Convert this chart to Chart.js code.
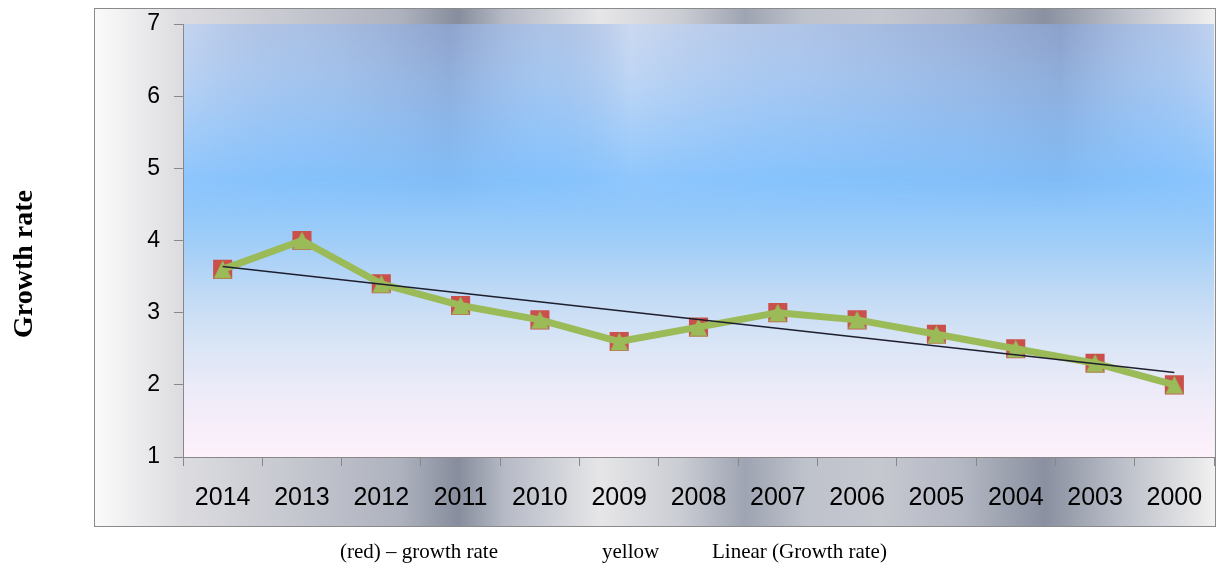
<!DOCTYPE html>
<html>
<head>
<meta charset="utf-8">
<title>Growth rate</title>
<script src="https://cdn.jsdelivr.net/npm/chart.js@4/dist/chart.umd.min.js"></script>
<style>
  html, body { margin: 0; padding: 0; background: #ffffff; }
  #wrap { width: 1218px; height: 571px; position: relative; }
</style>
</head>
<body>
<div id="wrap"><canvas id="chart" width="1218" height="571"></canvas></div>
<script>
// ---- data ----
const years = ['2014', '2013', '2012', '2011', '2010', '2009', '2008', '2007', '2006', '2005', '2004', '2003', '2000'];
const growthRate = [3.6, 4.0, 3.4, 3.1, 2.9, 2.6, 2.8, 3.0, 2.9, 2.7, 2.5, 2.3, 2.0];
const yellowSeries = [3.6, 4.0, 3.4, 3.1, 2.9, 2.6, 2.8, 3.0, 2.9, 2.7, 2.5, 2.3, 2.0];
// linear trend: only its two ends are given, the line spans the gap
const trendLine = [3.64, null, null, null, null, null, null, null, null, null, null, null, 2.17];
const yMin = 1;
const yMax = 7;
const yStep = 1;
const seriesLabels = ['(red) – growth rate', 'yellow', 'Linear (Growth rate)'];
const axisTitle = 'Growth rate';

// ---- marker: green triangle filling a square box ----
function triangleMarker(size, color) {
  const c = document.createElement('canvas');
  c.width = size; c.height = size;
  const g = c.getContext('2d');
  g.fillStyle = color;
  g.beginPath();
  g.moveTo(size / 2, 0.5);
  g.lineTo(size - 0.5, size - 0.5);
  g.lineTo(0.5, size - 0.5);
  g.closePath();
  g.fill();
  return c;
}
const greenTri = triangleMarker(19, '#9bbb59');

// ---- backgrounds: metallic chart frame + blue sky plot area ----
const backdrop = {
  id: 'backdrop',
  beforeDraw(chart) {
    const ctx = chart.ctx;
    const fx = 94, fy = 8, fw = 1122, fh = 519;
    ctx.save();
    const metal = ctx.createLinearGradient(fx, 0, fx + fw, 0);
    const mStops = [
      [94, '#fbfbfb'], [183, '#dcdce0'], [300, '#c4c6ce'], [400, '#aeb2be'],
      [458, '#878d9d'], [505, '#b6bac6'], [600, '#e6e6e8'], [680, '#cbcdd4'],
      [745, '#9ea4b2'], [805, '#bec2cb'], [880, '#c6c8d0'], [960, '#b4b8c3'],
      [1045, '#8a90a0'], [1120, '#babec8'], [1200, '#e8e8ea'], [1216, '#f2f2f2']
    ];
    mStops.forEach(([x, col]) => metal.addColorStop((x - fx) / fw, col));
    ctx.fillStyle = metal;
    ctx.fillRect(fx, fy, fw, fh);

    const a = chart.chartArea;
    const h = a.bottom - a.top, w = a.right - a.left;
    const sky = ctx.createLinearGradient(0, a.top, 0, a.bottom);
    sky.addColorStop(0.00, '#b0c6e8');
    sky.addColorStop(0.12, '#a6c9f3');
    sky.addColorStop(0.25, '#92c6fb');
    sky.addColorStop(0.36, '#84c3fe');
    sky.addColorStop(0.50, '#9fcdf8');
    sky.addColorStop(0.62, '#c0daf5');
    sky.addColorStop(0.75, '#dce6f6');
    sky.addColorStop(0.88, '#f2ecf9');
    sky.addColorStop(1.00, '#fdf1fb');
    ctx.fillStyle = sky;
    ctx.fillRect(a.left, a.top, w, h);

    // soft vertical streaks along the top, fading downward
    const off = document.createElement('canvas');
    off.width = Math.ceil(w); off.height = Math.ceil(h);
    const o = off.getContext('2d');
    const streak = o.createLinearGradient(0, 0, w, 0);
    const sStops = [
      [183, 'rgba(210,222,244,0.60)'], [300, 'rgba(160,178,216,0.25)'],
      [450, 'rgba(100,120,170,0.45)'], [545, 'rgba(160,178,216,0.15)'],
      [630, 'rgba(222,230,246,0.60)'], [780, 'rgba(182,198,232,0.25)'],
      [900, 'rgba(138,156,200,0.30)'], [1060, 'rgba(100,120,170,0.48)'],
      [1160, 'rgba(168,186,226,0.25)'], [1214, 'rgba(210,224,248,0.50)']
    ];
    sStops.forEach(([x, col]) => streak.addColorStop(Math.min(1, Math.max(0, (x - a.left) / w)), col));
    o.fillStyle = streak;
    o.fillRect(0, 0, w, h);
    o.globalCompositeOperation = 'destination-in';
    const fade = o.createLinearGradient(0, 0, 0, h);
    fade.addColorStop(0, 'rgba(0,0,0,1)');
    fade.addColorStop(0.2, 'rgba(0,0,0,0.55)');
    fade.addColorStop(0.45, 'rgba(0,0,0,0)');
    o.fillStyle = fade;
    o.fillRect(0, 0, w, h);
    ctx.drawImage(off, a.left, a.top);

    ctx.strokeStyle = '#8a8a8a';
    ctx.lineWidth = 1;
    ctx.strokeRect(fx + 0.5, fy + 0.5, fw - 1, fh - 1);
    ctx.restore();
  }
};

// ---- axis title and series captions ----
const captions = {
  id: 'captions',
  afterDraw(chart) {
    const ctx = chart.ctx;
    ctx.save();
    ctx.fillStyle = '#000';
    ctx.font = 'bold 28px "Liberation Serif", "Times New Roman", serif';
    ctx.translate(32, 264);
    ctx.rotate(-Math.PI / 2);
    ctx.textAlign = 'center';
    ctx.textBaseline = 'alphabetic';
    ctx.fillText(axisTitle, 0, 0);
    ctx.restore();

    ctx.save();
    ctx.fillStyle = '#000';
    ctx.font = '21px "Liberation Serif", "Times New Roman", serif';
    ctx.textAlign = 'left';
    ctx.textBaseline = 'alphabetic';
    const xs = [340, 602, 712];
    chart.data.datasets
      .slice()
      .sort((p, q) => seriesLabels.indexOf(p.label) - seriesLabels.indexOf(q.label))
      .forEach((ds, i) => ctx.fillText(ds.label, xs[i], 558));
    ctx.restore();
  }
};

const axisGray = '#888888';

// axis boxes keep fixed sizes and add no extra edge padding
function noEdgePadding(s) {
  s.paddingLeft = 0; s.paddingRight = 0; s.paddingTop = 0; s.paddingBottom = 0;
}

new Chart(document.getElementById('chart'), {
  type: 'line',
  data: {
    labels: years,
    datasets: [
      {
        label: seriesLabels[2],
        data: trendLine,
        borderColor: '#1e1e2e',
        borderWidth: 1.5,
        pointRadius: 0,
        spanGaps: true,
        tension: 0,
        order: 0
      },
      {
        label: seriesLabels[1],
        data: yellowSeries,
        borderColor: '#9bbb59',
        borderWidth: 7,
        borderJoinStyle: 'round',
        pointStyle: greenTri,
        pointRadius: 10,
        pointBorderWidth: 0,
        tension: 0,
        order: 1
      },
      {
        label: seriesLabels[0],
        data: growthRate,
        borderColor: '#c0504d',
        borderWidth: 3,
        pointStyle: 'rect',
        pointRadius: 13.5,
        pointBackgroundColor: '#c9504b',
        pointBorderWidth: 0,
        tension: 0,
        order: 2
      }
    ]
  },
  options: {
    responsive: false,
    devicePixelRatio: 1,
    animation: false,
    layout: { autoPadding: false, padding: { top: 24, right: 4, left: 0, bottom: 0 } },
    plugins: {
      legend: { display: false },
      tooltip: { enabled: false },
      title: { display: false }
    },
    scales: {
      x: {
        type: 'category',
        offset: true,
        grid: { offset: true, drawOnChartArea: false, drawTicks: true, tickLength: 9, color: axisGray },
        border: { display: true, color: axisGray, width: 1 },
        ticks: {
          color: '#000',
          font: { family: '"Liberation Sans", Arial, sans-serif', size: 25 },
          padding: 17,
          maxRotation: 0,
          autoSkip: false
        },
        afterFit(s) { s.height = 114; noEdgePadding(s); }
      },
      y: {
        min: yMin,
        max: yMax,
        grid: { drawOnChartArea: false, drawTicks: true, tickLength: 9, color: axisGray },
        border: { display: true, color: axisGray, width: 1 },
        ticks: {
          stepSize: yStep,
          color: '#000',
          font: { family: '"Liberation Sans", Arial, sans-serif', size: 23 },
          padding: 14
        },
        afterFit(s) { s.width = 183; noEdgePadding(s); }
      }
    }
  },
  plugins: [backdrop, captions]
});
</script>
</body>
</html>
